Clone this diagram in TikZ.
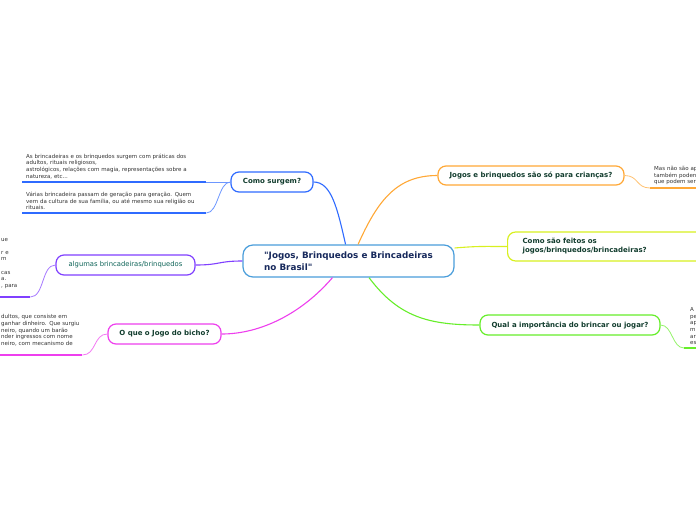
\documentclass[tikz,border=0pt]{standalone}
\usepackage{fontspec}
\setmainfont{DejaVu Sans}
\definecolor{azul}{HTML}{2F6BFF}
\definecolor{azulclaro}{HTML}{4A9EDB}
\definecolor{roxo}{HTML}{8040FF}
\definecolor{rosa}{HTML}{EE3FEE}
\definecolor{laranja}{HTML}{FFA836}
\definecolor{limao}{HTML}{D8F020}
\definecolor{verde}{HTML}{66EE2A}
\definecolor{textoramo}{HTML}{123D2E}
\definecolor{textocentro}{HTML}{17295C}
\definecolor{textofolha}{HTML}{333333}
\tikzset{
  ramo/.style={draw=#1, fill=white, rounded corners=8pt, line width=1.2pt, inner sep=0pt, minimum height=20pt, text=textoramo, font=\fontsize{7}{9}\selectfont\bfseries},
  folha/.style={anchor=south west, inner xsep=4pt, inner ysep=3pt, align=left, text=textofolha, font=\fontsize{5.5}{6.6}\selectfont},
  ligacao/.style={draw=#1, line width=1.1pt},
  fio/.style={draw=#1!70, line width=0.8pt},
  sublinha/.style={draw=#1, line width=2pt}
}

\begin{document}
\begin{tikzpicture}[x=1pt,y=-1pt]
\path[use as bounding box, fill=white] (0,0) rectangle (696,520);

\node[draw=azulclaro, fill=white, rounded corners=10pt, line width=1.2pt, minimum width=211pt, minimum height=32pt, align=left, text=textocentro, font=\fontsize{8.8}{12}\selectfont\bfseries] (centro) at (348.5,261) {\textquotedbl Jogos, Brinquedos e Brincadeiras\\no Brasil\textquotedbl};

\node[ramo=azul, minimum width=82pt] (surgem) at (272,182) {Como surgem?};
\node[ramo=laranja, minimum width=186pt, minimum height=19pt] (criancas) at (531,175.5) {Jogos e brinquedos são só para crianças?};
\node[ramo=limao, anchor=west, minimum height=29pt, inner xsep=15pt, text width=200pt, align=left] (feitos) at (507,246.5) {Como são feitos os\\jogos/brinquedos/brincadeiras?};
\node[ramo=verde, minimum width=180pt] (importancia) at (570,325) {Qual a importância do brincar ou jogar?};
\node[ramo=roxo, minimum width=139pt, text=textoramo!80!cyan, font=\fontsize{6.8}{9}\selectfont] (algumas) at (125.5,265) {algumas brincadeiras/brinquedos};
\node[ramo=rosa, minimum width=113pt] (bicho) at (164.5,334) {O que o Jogo do bicho?};

\draw[ligacao=azul] (centro.100) .. controls +(-8,-35) and +(18,0) .. (surgem.east);
\draw[ligacao=laranja] (centro.60) .. controls +(20,-45) and +(-40,0) .. (criancas.west);
\draw[ligacao=limao] (centro.7) .. controls +(25,-2) and +(-25,0) .. (feitos.west);
\draw[ligacao=verde] (centro.321) .. controls +(30,40) and +(-50,0) .. (importancia.west);
\draw[ligacao=rosa] (centro.226) .. controls +(-30,35) and +(40,0) .. (bicho.east);
\draw[ligacao=roxo] (centro.west) .. controls +(-25,0) and +(25,0) .. (algumas.east);

\node[folha, text width=176pt] (origem) at (22,182) {As brincadeiras e os brinquedos surgem com práticas dos\\adultos, rituais religiosos,\\astrológicos, relações com magia, representações sobre a\\natureza, etc...};
\node[folha, text width=176pt] (geracao) at (22,213) {Várias brincadeira passam de geração para geração. Quem\\vem da cultura de sua família, ou até mesmo sua religião ou\\rituais.};
\node[folha, inner xsep=1pt, text width=28pt] (exemplos) at (0,297) {ue\\\mbox{}\\r e\\m\\\mbox{}\\cas\\a.\\, para\\\mbox{}};
\node[folha, inner xsep=1pt, text width=80pt] (apostas) at (0,355) {dultos, que consiste em\\ganhar dinheiro. Que surgiu\\neiro, quando um barão\\nder ingressos com nome\\neiro, com mecanismo de\\\mbox{}};
\node[folha, text width=60pt] (adultos) at (650,188) {Mas não são ap\\também poden\\que podem ser};
\node[folha, inner xsep=6pt, text width=20pt] (aprender) at (684,348) {A\\pe\\ap\\m\\ar\\es};

\draw[sublinha=azul] (origem.south west) -- (origem.south east);
\draw[sublinha=azul] (geracao.south west) -- (geracao.south east);
\draw[sublinha=roxo] (exemplos.south west) -- (exemplos.south east);
\draw[sublinha=rosa] (apostas.south west) -- (apostas.south east);
\draw[sublinha=laranja] (adultos.south west) -- (adultos.south east);
\draw[sublinha=verde] (aprender.south west) -- (aprender.south east);

\draw[fio=azul] (surgem.west) .. controls +(-12,0) and +(12,0) .. (origem.south east);
\draw[fio=azul] (surgem.west) .. controls +(-12,0) and +(12,0) .. (geracao.south east);
\draw[fio=roxo] (algumas.west) .. controls +(-14,0) and +(14,0) .. (exemplos.south east);
\draw[fio=rosa] (bicho.west) .. controls +(-14,0) and +(14,0) .. (apostas.south east);
\draw[fio=laranja] (criancas.east) .. controls +(14,0) and +(-14,0) .. (adultos.south west);
\draw[fio=verde] (importancia.east) .. controls +(12,0) and +(-12,0) .. (aprender.south west);
\end{tikzpicture}
\end{document}
